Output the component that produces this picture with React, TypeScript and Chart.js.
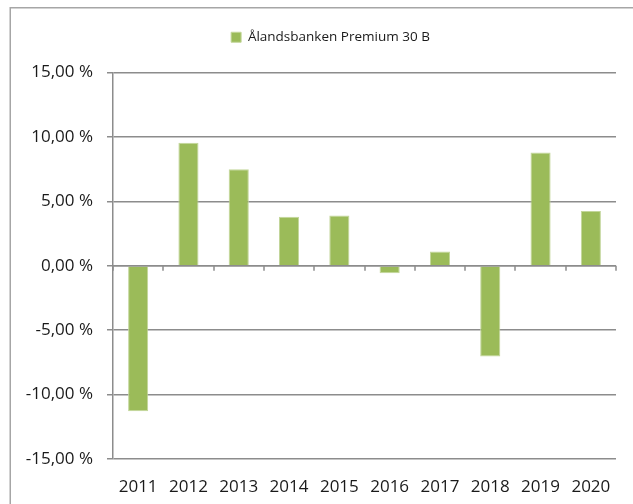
import React, { useEffect, useRef } from "react";
import { Chart, registerables } from "chart.js";

Chart.register(...registerables);

const categories: string[] = ["2011", "2012", "2013", "2014", "2015", "2016", "2017", "2018", "2019", "2020"];
const seriesName = "Ålandsbanken Premium 30 B";
const returns: number[] = [-11.3, 9.55, 7.5, 3.8, 3.9, -0.58, 1.1, -7.05, 8.8, 4.25];
const yMin = -15;
const yMax = 15;
const yStep = 5;

const FONT = "'Open Sans', 'Noto Sans', sans-serif";
const GRID = "#8c8c8c";

const framePlugin = {
  id: "frame",
  afterLayout(chart: any) {
    const lg = chart.legend;
    if (lg) {
      lg.left = 45;
      lg.right = 616;
      lg.width = 571;
    }
  },
  beforeDraw(chart: any) {
    const ctx = chart.ctx;
    ctx.save();
    ctx.fillStyle = "#ffffff";
    ctx.fillRect(0, 0, chart.width, chart.height);
    ctx.strokeStyle = "#a6a6a6";
    ctx.lineWidth = 1.5;
    ctx.beginPath();
    ctx.moveTo(10.25, chart.height);
    ctx.lineTo(10.25, 7.75);
    ctx.lineTo(chart.width, 7.75);
    ctx.stroke();
    ctx.restore();
  },
};

const zeroTicksPlugin = {
  id: "zeroTicks",
  afterDatasetsDraw(chart: any) {
    const x = chart.scales.x;
    const y = chart.scales.y;
    const ctx = chart.ctx;
    const y0 = y.getPixelForValue(0);
    ctx.save();
    ctx.strokeStyle = GRID;
    ctx.lineWidth = 1.5;
    ctx.beginPath();
    ctx.moveTo(x.left, y0);
    ctx.lineTo(x.right, y0);
    for (let i = 0; i <= categories.length; i++) {
      const px = Math.round(x.getPixelForValue(i - 0.5));
      ctx.moveTo(px, y0);
      ctx.lineTo(px, y0 + 5);
    }
    ctx.stroke();
    ctx.restore();
  },
};

export default function App() {
  const ref = useRef<HTMLCanvasElement | null>(null);

  useEffect(() => {
    if (!ref.current) return;
    const chart = new Chart(ref.current, {
      type: "bar",
      data: {
        labels: categories,
        datasets: [
          {
            label: seriesName,
            data: returns,
            backgroundColor: "#9bbb59",
            borderColor: "#c3d69b",
            borderWidth: 1,
            barPercentage: 0.4,
            categoryPercentage: 1,
          },
        ],
      },
      options: {
        animation: false,
        responsive: false,
        devicePixelRatio: 1,
        layout: { padding: { top: 20.5, left: 10, right: 17, bottom: 0 } },
        plugins: {
          legend: {
            display: true,
            position: "top",
            weight: 3000,
            labels: {
              boxWidth: 10,
              boxHeight: 10,
              padding: 10,
              color: "#1a1a1a",
              font: { family: FONT, size: 13.5 },
            },
          } as any,
          title: {
            display: true,
            text: "",
            font: { size: 10 },
            padding: { top: 0, bottom: 6.5 },
          },
          tooltip: { enabled: false },
        },
        scales: {
          x: {
            grid: { display: false, drawTicks: false },
            border: { display: false },
            ticks: {
              color: "#1a1a1a",
              font: { family: FONT, size: 17 },
              padding: 18,
              maxRotation: 0,
              autoSkip: false,
            },
            afterFit(scale: any) {
              scale.height = 45;
            },
          },
          y: {
            min: yMin,
            max: yMax,
            grid: { color: GRID, lineWidth: 1.5, tickLength: 6, drawTicks: true },
            border: { display: true, color: GRID, width: 1.5 },
            ticks: {
              stepSize: yStep,
              color: "#1a1a1a",
              font: { family: FONT, size: 17 },
              padding: 14,
              callback: (v: any) => Number(v).toFixed(2).replace(".", ",") + " %",
            },
            afterFit(scale: any) {
              scale.width = 103;
            },
          },
        },
      },
      plugins: [framePlugin, zeroTicksPlugin],
    });
    return () => chart.destroy();
  }, []);

  return (
    <div style={{ position: "absolute", left: 0, top: 0, width: 633, height: 504 }}>
      <canvas ref={ref} width={633} height={504} style={{ display: "block", width: 633, height: 504 }} />
    </div>
  );
}
